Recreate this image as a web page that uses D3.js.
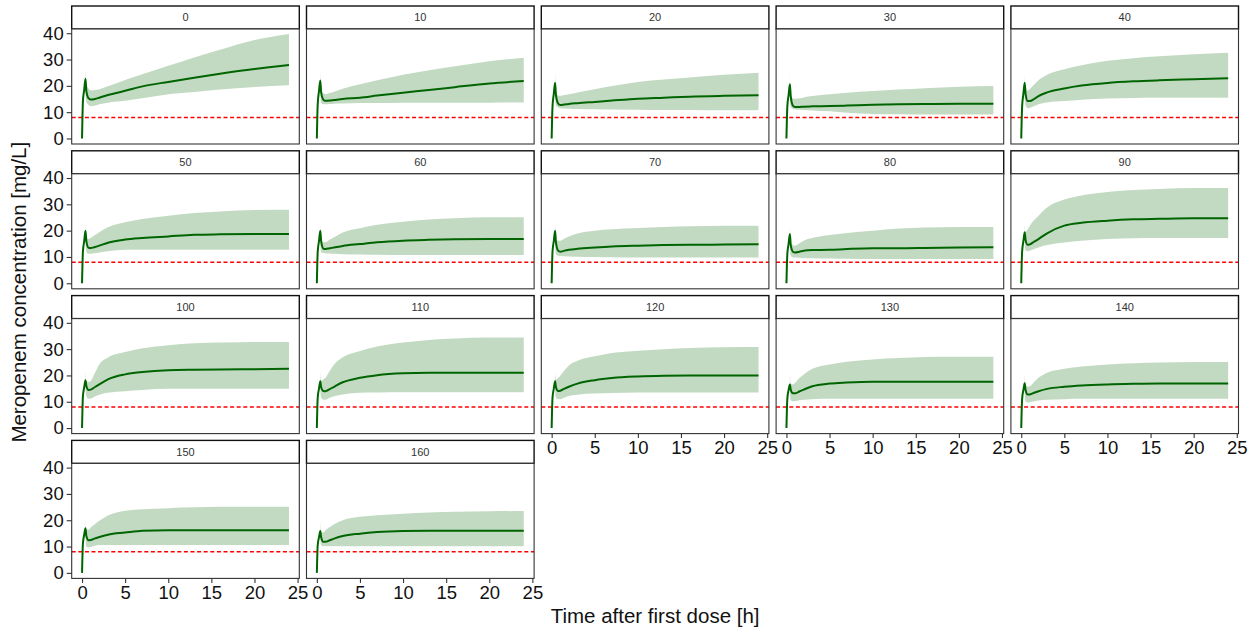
<!DOCTYPE html>
<html>
<head>
<meta charset="utf-8">
<script src="https://cdn.jsdelivr.net/npm/d3@7"></script>
<style>
  html, body { margin: 0; padding: 0; background: #fff; }
  svg { display: block; font-family: "Liberation Sans", Arial, sans-serif; }
</style>
</head>
<body>
<svg id="chart" width="1258" height="629"></svg>
<script>
// Facet labels (dose group)
const panels = ["0","10","20","30","40","50","60","70","80","90","100","110","120","130","140","150","160"];

// Sampling times [h]
const times = [0, 0.1, 0.25, 0.4, 0.5, 0.75, 1, 1.5, 2, 3, 5, 7, 10, 13, 16, 20, 24];

// Median concentration [mg/L], one row per facet
const medianConc = [
  [0, 14, 18.5, 22.7, 18, 15.3, 14.8, 15.0, 15.5, 16.5, 18.1, 19.8, 21.5, 23.1, 24.6, 26.4, 27.9],
  [0, 13, 18, 22, 17.5, 14.8, 14.3, 14.4, 14.6, 15.0, 15.5, 16.3, 17.4, 18.4, 19.5, 20.9, 21.8],
  [0, 12, 17, 21.2, 16.5, 13.3, 12.7, 12.9, 13.1, 13.4, 13.9, 14.4, 15.1, 15.5, 15.9, 16.2, 16.4],
  [0, 12, 16.5, 20.6, 16, 12.5, 12.0, 12.0, 12.1, 12.2, 12.3, 12.5, 12.8, 13.0, 13.1, 13.2, 13.2],
  [0, 12, 17, 21.2, 17, 14.2, 14.2, 15.0, 16.1, 17.5, 19.0, 20.1, 21.1, 21.7, 22.1, 22.5, 22.9],
  [0, 12, 16, 20, 16, 13.5, 13.4, 13.8, 14.3, 15.4, 16.6, 17.2, 17.8, 18.4, 18.6, 18.7, 18.7],
  [0, 12, 16, 20, 16, 13.2, 13.0, 13.3, 13.6, 14.2, 14.9, 15.6, 16.2, 16.5, 16.7, 16.8, 16.8],
  [0, 12, 16, 20, 15.5, 12.4, 12.0, 12.4, 12.7, 13.1, 13.6, 14.0, 14.3, 14.5, 14.6, 14.7, 14.8],
  [0, 11, 15, 18.7, 14.5, 12.0, 11.7, 12.0, 12.4, 12.6, 12.7, 13.0, 13.3, 13.3, 13.4, 13.6, 13.7],
  [0, 12, 16, 19.4, 16.5, 14.6, 14.8, 15.8, 16.8, 19.0, 21.9, 23.0, 23.8, 24.3, 24.5, 24.7, 24.7],
  [0, 12, 15.5, 18.2, 16, 14.5, 14.6, 15.6, 16.6, 18.5, 20.4, 21.3, 22.0, 22.2, 22.3, 22.4, 22.5],
  [0, 11.5, 15, 17.8, 15.5, 14.1, 14.0, 14.8, 15.7, 17.4, 19.1, 20.1, 20.8, 21.0, 21.0, 21.0, 21.0],
  [0, 11.5, 15, 17.8, 15.5, 14.1, 14.2, 15.0, 15.7, 16.9, 18.2, 19.0, 19.6, 19.9, 20.0, 20.0, 20.0],
  [0, 11, 14.5, 16.6, 14.5, 13.2, 13.2, 13.9, 14.6, 15.9, 16.9, 17.3, 17.6, 17.6, 17.6, 17.6, 17.6],
  [0, 11, 14.5, 17, 14.5, 12.8, 12.8, 13.4, 14.0, 14.9, 15.7, 16.2, 16.6, 16.8, 16.9, 16.9, 16.9],
  [0, 11, 14.5, 17, 14, 12.4, 12.5, 13.1, 13.6, 14.5, 15.3, 16.0, 16.2, 16.2, 16.2, 16.2, 16.2],
  [0, 10.5, 13.5, 15.9, 13.5, 11.8, 11.8, 12.4, 13.0, 14.0, 14.9, 15.5, 15.9, 16.0, 16.0, 16.0, 16.0]
];

// Lower prediction bound [mg/L] (null = not shown)
const lowerConc = [
  [null, null, null, 18, 14, 12.8, 12.2, 12.5, 13.0, 13.6, 14.3, 15.3, 16.8, 17.7, 18.6, 19.6, 20.2],
  [null, null, null, 18, 13.5, 13.0, 13.0, 13.1, 13.2, 13.3, 13.5, 13.5, 13.6, 13.6, 13.6, 13.6, 13.7],
  [null, null, null, 17, 12.5, 11.8, 11.5, 11.4, 11.3, 11.2, 11.1, 11.0, 10.9, 10.8, 10.8, 10.7, 10.7],
  [null, null, null, 16, 12, 11.2, 11.0, 10.9, 10.8, 10.6, 10.3, 9.8, 9.3, 9.2, 9.1, 9.1, 9.1],
  [null, null, null, 16, 12.5, 11.5, 11.6, 12.3, 13.0, 13.7, 14.2, 14.7, 15.2, 15.4, 15.5, 15.5, 15.5],
  [null, null, null, 15, 12, 11.2, 11.2, 11.4, 11.7, 12.2, 12.7, 12.7, 12.7, 12.7, 12.7, 12.7, 12.7],
  [null, null, null, 15, 11.8, 11.5, 11.4, 11.3, 11.2, 11.0, 10.9, 10.8, 10.7, 10.7, 10.7, 10.7, 10.7],
  [null, null, null, 15, 11, 10.5, 10.4, 10.3, 10.2, 10.1, 10.0, 9.9, 9.8, 9.8, 9.8, 9.8, 9.8],
  [null, null, null, 14, 10.5, 9.9, 9.8, 9.7, 9.6, 9.5, 9.4, 9.3, 9.2, 9.2, 9.2, 9.2, 9.2],
  [null, null, null, 15, 12.5, 12.2, 12.4, 13.0, 13.6, 14.5, 15.5, 16.2, 16.8, 17.1, 17.2, 17.2, 17.2],
  [null, null, null, 14.5, 12, 11.1, 11.2, 12.0, 12.7, 13.4, 14.0, 14.5, 14.9, 14.9, 14.9, 14.9, 14.9],
  [null, null, null, 14, 11.5, 10.8, 10.8, 11.5, 12.1, 12.8, 13.4, 13.5, 13.6, 13.6, 13.6, 13.6, 13.6],
  [null, null, null, 14, 11.5, 11.0, 11.0, 11.6, 12.2, 12.7, 13.1, 13.3, 13.5, 13.5, 13.5, 13.5, 13.5],
  [null, null, null, 13, 10.5, 10.2, 10.3, 10.6, 10.8, 11.0, 11.1, 11.1, 11.1, 11.1, 11.1, 11.1, 11.1],
  [null, null, null, 13, 10.2, 9.7, 9.8, 10.2, 10.5, 10.8, 11.0, 11.1, 11.1, 11.1, 11.1, 11.1, 11.1],
  [null, null, null, 13, 10, 9.6, 9.8, 10.3, 10.6, 10.6, 10.6, 10.6, 10.6, 10.6, 10.6, 10.6, 10.6],
  [null, null, null, 12.5, 10.5, 10.1, 10.1, 10.1, 10.1, 10.1, 10.1, 10.1, 10.1, 10.1, 10.1, 10.1, 10.1]
];

// Upper prediction bound [mg/L] (null = not shown)
const upperConc = [
  [null, null, null, 27, 20.5, 19, 18.3, 18.4, 18.7, 19.8, 22.2, 24.4, 27.6, 30.8, 33.7, 37.4, 39.7],
  [null, null, null, 26, 18.5, 17.2, 16.9, 17.3, 17.8, 18.9, 20.6, 22.1, 24.2, 25.9, 27.4, 29.3, 30.7],
  [null, null, null, 26, 17.5, 16.4, 16.2, 16.5, 16.8, 17.5, 18.7, 19.9, 21.5, 22.4, 23.2, 24.2, 25],
  [null, null, null, 24.6, 16.5, 15.3, 15.1, 15.3, 15.6, 16.1, 16.8, 17.4, 18.0, 18.6, 19.1, 19.7, 19.9],
  [null, null, null, 24.4, 19, 18.2, 18.8, 20.5, 22.1, 24.2, 26.3, 27.8, 29.5, 30.5, 31.2, 32.0, 32.6],
  [null, null, null, 23.8, 17.5, 16.8, 17.2, 18.3, 19.4, 21.3, 23.2, 24.4, 25.7, 26.7, 27.3, 27.8, 27.9],
  [null, null, null, 23.8, 16.5, 15.6, 15.6, 16.6, 17.5, 19.3, 20.9, 22.2, 23.4, 24.2, 24.7, 25.1, 25.1],
  [null, null, null, 23.8, 16.5, 16.2, 16.2, 17.0, 17.8, 18.9, 20.0, 20.5, 21.0, 21.4, 21.7, 21.9, 21.9],
  [null, null, null, 22.5, 15.5, 14.5, 14.3, 15.2, 16.2, 17.2, 18.3, 19.1, 20.0, 20.8, 21.2, 21.4, 21.4],
  [null, null, null, 22.2, 19.5, 20.5, 21.9, 24.0, 25.7, 28.8, 31.8, 33.4, 34.7, 35.4, 35.8, 36.2, 36.2],
  [null, null, null, 22, 18, 17.5, 17.8, 21.0, 24.2, 26.8, 28.9, 30.3, 31.5, 32.2, 32.5, 32.7, 32.7],
  [null, null, null, 22, 18, 18.5, 19.1, 21.8, 24.2, 26.9, 29.3, 31.0, 32.5, 33.5, 34.0, 34.4, 34.4],
  [null, null, null, 21.5, 18.5, 19, 19.9, 22.0, 23.8, 25.6, 27.3, 28.5, 29.4, 30.0, 30.4, 30.7, 30.8],
  [null, null, null, 21, 16.8, 16.6, 17.2, 19.0, 20.4, 22.5, 24.2, 25.2, 26.1, 26.6, 27.0, 27.1, 27.1],
  [null, null, null, 21, 16.5, 15.8, 15.9, 17.6, 19.1, 21.0, 22.5, 23.4, 24.2, 24.6, 24.9, 25.1, 25.1],
  [null, null, null, 19.8, 16.5, 16.5, 17.2, 18.6, 19.8, 21.8, 23.6, 24.2, 24.6, 24.9, 25.1, 25.1, 25.1],
  [null, null, null, 20, 15.5, 15.3, 16.2, 17.4, 18.5, 20.0, 21.3, 21.9, 22.5, 22.9, 23.2, 23.4, 23.5]
];

// Target concentration threshold [mg/L]
const threshold = 8;

const xTicks = [0, 5, 10, 15, 20, 25];
const yTicks = [0, 10, 20, 30, 40];

// ---- layout ----
const nCols = 5;
const gridLeft = 71.7, gridTop = 6;
const panelW = 227.6, colStep = 234.8;
const stripH = 23, plotH = 115, rowStep = 144.8;
const tickFont = 18.5, titleFont = 20.5;

const svg = d3.select("#chart");

const x = d3.scaleLinear().domain([-1.2, 25.2]).range([0, panelW]);
const y = d3.scaleLinear().domain([-2.1, 41.6]).range([plotH, 0]);

const line = d3.line()
  .defined(d => d.m != null)
  .x(d => x(d.t)).y(d => y(d.m))
  .curve(d3.curveMonotoneX);

const band = d3.area()
  .defined(d => d.lo != null && d.hi != null)
  .x(d => x(d.t)).y0(d => y(d.lo)).y1(d => y(d.hi))
  .curve(d3.curveMonotoneX);

const nPanels = panels.length;
const nRows = Math.ceil(nPanels / nCols);

panels.forEach((label, i) => {
  const r = Math.floor(i / nCols), c = i % nCols;
  const gx = gridLeft + c * colStep;
  const gy = gridTop + r * rowStep;
  const g = svg.append("g").attr("transform", `translate(${gx},${gy})`);

  // strip
  g.append("rect")
    .attr("x", 0).attr("y", 0).attr("width", panelW).attr("height", stripH)
    .attr("fill", "#fff").attr("stroke", "#111").attr("stroke-width", 1.4);
  g.append("text")
    .attr("x", panelW / 2).attr("y", stripH / 2)
    .attr("dy", "0.36em").attr("text-anchor", "middle")
    .attr("font-size", 11).attr("fill", "#333")
    .text(label);

  const p = g.append("g").attr("transform", `translate(0,${stripH})`);
  p.append("rect")
    .attr("width", panelW).attr("height", plotH)
    .attr("fill", "#fff");

  const rows = times.map((t, k) => ({
    t, m: medianConc[i][k], lo: lowerConc[i][k], hi: upperConc[i][k]
  }));

  p.append("path").datum(rows)
    .attr("d", band)
    .attr("fill", "#006400").attr("fill-opacity", 0.24);

  p.append("line")
    .attr("x1", 0).attr("x2", panelW)
    .attr("y1", y(threshold)).attr("y2", y(threshold))
    .attr("stroke", "#ff0000").attr("stroke-width", 1.5)
    .attr("stroke-dasharray", "4,2.6");

  p.append("path").datum(rows)
    .attr("d", line)
    .attr("fill", "none").attr("stroke", "#006400").attr("stroke-width", 2)
    .attr("stroke-linejoin", "round");

  p.append("rect")
    .attr("width", panelW).attr("height", plotH)
    .attr("fill", "none").attr("stroke", "#333").attr("stroke-width", 1.1);

  // y axis on first column
  if (c === 0) {
    const ya = p.append("g").call(
      d3.axisLeft(y).tickValues(yTicks).tickSize(5).tickPadding(3)
    );
    ya.select(".domain").remove();
    ya.selectAll(".tick line").attr("stroke", "#333").attr("stroke-width", 1.1);
    ya.selectAll(".tick text")
      .attr("font-size", tickFont).attr("fill", "#111")
      .attr("font-family", "'Liberation Sans', Arial, sans-serif");
  }

  // x axis on the lowest panel of each column
  const belowIndex = i + nCols;
  if (belowIndex >= nPanels) {
    const xa = p.append("g").attr("transform", `translate(0,${plotH})`).call(
      d3.axisBottom(x).tickValues(xTicks).tickSize(4.5).tickPadding(2.5)
    );
    xa.select(".domain").remove();
    xa.selectAll(".tick line").attr("stroke", "#333").attr("stroke-width", 1.1);
    xa.selectAll(".tick text")
      .attr("font-size", tickFont).attr("fill", "#111")
      .attr("font-family", "'Liberation Sans', Arial, sans-serif");
  }
});

// axis titles
const gridRight = gridLeft + (nCols - 1) * colStep + panelW;
const gridBottom = gridTop + (nRows - 1) * rowStep + stripH + plotH;

svg.append("text")
  .attr("x", (gridLeft + gridRight) / 2).attr("y", 623)
  .attr("text-anchor", "middle").attr("font-size", titleFont).attr("fill", "#111")
  .text("Time after first dose [h]");

svg.append("text")
  .attr("transform", `translate(26,${(gridTop + gridBottom) / 2}) rotate(-90)`)
  .attr("text-anchor", "middle").attr("font-size", titleFont).attr("fill", "#111")
  .text("Meropenem concentration [mg/L]");
</script>
</body>
</html>
